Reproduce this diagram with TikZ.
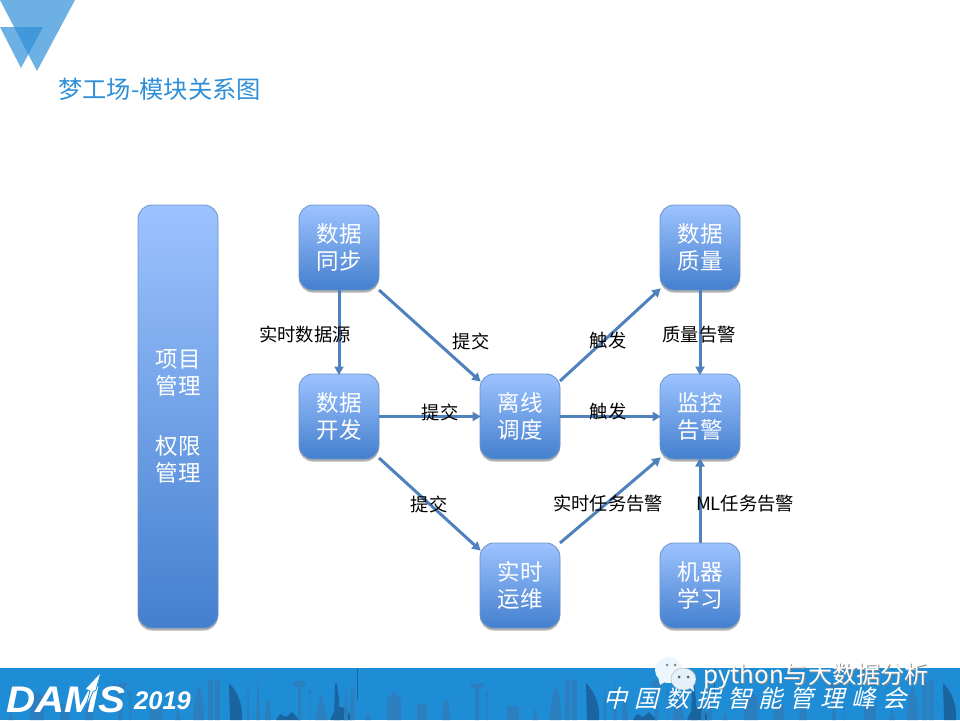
\documentclass[tikz,border=0pt]{standalone}
\usepackage{fontspec}
\setmainfont{Liberation Sans}
\newfontfamily\cjk{Noto Sans CJK SC}
\newfontfamily\damsfont[BoldItalicFont={Liberation Sans Bold Italic},ItalicFont={Liberation Sans Bold Italic},AutoFakeBold=1.2]{Liberation Sans}
\usetikzlibrary{arrows.meta,shadows,calc}
\definecolor{bannerblue}{HTML}{1F8DD6}
\definecolor{skya}{HTML}{2B7FBE}
\definecolor{skyb}{HTML}{1A659F}
\definecolor{titleblue}{HTML}{2E8FD8}
\definecolor{linkblue}{HTML}{4F81BD}
\definecolor{boxtop}{HTML}{9DC3FF}
\definecolor{boxbot}{HTML}{447FCE}
\tikzset{
  x=1pt,y=-1pt,
  module/.style={rounded corners=14pt,draw=linkblue!85,line width=0.8pt,
    top color=boxtop,bottom color=boxbot,text=white,align=center,
    minimum width=80pt,inner sep=0pt,outer sep=0pt,
    font=\cjk\fontsize{22.5pt}{27.2pt}\selectfont,
    drop shadow={shadow xshift=0pt,shadow yshift=-2.5pt,fill=black,opacity=0.3}},
  link/.style={draw=linkblue,line width=3pt,-{Triangle[length=8.5pt,width=9pt]},shorten >=-1pt},
  lbl/.style={text=black,inner sep=0pt,font=\cjk\fontsize{18.3pt}{20pt}\selectfont},
  tri/.style={fill=titleblue,fill opacity=0.7},
  sky/.style={fill=skya,draw=none},
  skyd/.style={fill=skyb,draw=none},
}
\newcommand{\skyline}[1]{%
 \begin{scope}[xshift=#1pt]
  \fill[sky] (8,720) -- (11,712) -- (14,720) -- cycle;
  \fill[sky] (30,720) -- (30,698) -- (37,692) -- (44,698) -- (44,720) -- cycle;
  \fill[sky] (60,720) -- (60,704) -- (70,704) -- (70,720) -- cycle;
  \fill[sky] (85,720) -- (87,700) -- (91,700) -- (93,720) -- cycle;
  \fill[sky] (113,684) -- (127,683) -- (126,687) -- (122,688) -- (122,720) -- (118,720) -- (118,688) -- (114,687) -- cycle;
  \fill[sky] (129.3,720) -- (129.3,696) -- (128,694) -- (129.6,692) -- (130,683) -- (130.4,692) -- (132,694) -- (130.7,696) -- (130.7,720) -- cycle;
  \fill[sky] (150,720) -- (150,706) -- (162,706) -- (162,720) -- cycle;
  \fill[sky] (175,720) -- (178,708) -- (181,720) -- cycle;
  \fill[sky] (193,720) .. controls (193,705) and (196,692) .. (199,685) .. controls (202,692) and (204,705) .. (204,720) -- cycle;
  \fill[sky] (208,720) -- (208,682) -- (211,678) -- (213,682) -- (213,720) -- cycle;
  \fill[sky] (215,720) -- (215,682) -- (217,678) -- (220,682) -- (220,720) -- cycle;
  \fill[skyd] (229,683) .. controls (238,692) and (243,705) .. (242,720) -- (230,720) -- cycle;
  \fill[sky] (246.5,720) -- (247.5,690) -- (248,680) -- (248.5,690) -- (249.5,720) -- cycle;
  \fill[sky] (256,720) -- (257.5,685) -- (258,672) -- (258.5,685) -- (260,720) -- cycle;
  \fill[sky] (265,720) -- (266,702) -- (268,699) -- (270,702) -- (271,720) -- cycle;
  \fill[skyd] (276,720) -- (280,714) -- (286,717) -- (292,712) -- (300,720) -- cycle;
  \fill[sky] (293,683) .. controls (297,680) and (303,680) .. (306,683) -- (304,687) -- (301,687) -- (301,720) -- (298,720) -- (298,687) -- (295,687) -- cycle;
  \fill[sky] (309.5,720) -- (309.5,695) -- (308,692) -- (309.7,690) -- (310,683) -- (310.3,690) -- (312,692) -- (310.5,695) -- (310.5,720) -- cycle;
  \fill[sky] (315,720) -- (321,692) -- (328,720) -- cycle;
  \fill[skyd] (334,720) -- (335,684) -- (337,683) -- (339,700) -- (340,720) -- cycle;
  \fill[skyd] (330,720) .. controls (334,710) and (337,707) .. (341,707) .. controls (345,707) and (348,710) .. (352,720) -- cycle;
  \fill[sky] (344,720) -- (345,690) -- (347,690) -- (348,720) -- cycle;
  \fill[sky] (350,720) -- (351,688) -- (354,686) -- (355,720) -- cycle;
  \fill[skyb] (356.6,668) rectangle (357.1,700);
 \end{scope}}
\begin{document}
\begin{tikzpicture}
\useasboundingbox (0,0) rectangle (960,720);
% corner triangles
\fill[tri] (0,0) -- (75,0) -- (37,71) -- cycle;
\fill[tri] (0,27) -- (43,27) -- (21,68) -- cycle;
% title
\node[anchor=west,inner sep=0pt,text=titleblue,font=\cjk\fontsize{24.3pt}{26pt}\selectfont] (title) at (58,89) {梦工场-模块关系图};
% modules
\node[module,minimum height=423pt] (proj) at (178,416.5) {项目\\管理\\[33pt]权限\\管理};
\node[module,minimum height=85pt] (sync) at (339,247.5) {数据\\同步};
\node[module,minimum height=85pt] (dev) at (339,416.5) {数据\\开发};
\node[module,minimum height=85pt] (off) at (520,416.5) {离线\\调度};
\node[module,minimum height=85pt] (rt) at (520,585.5) {实时\\运维};
\node[module,minimum height=85pt] (qual) at (700,247.5) {数据\\质量};
\node[module,minimum height=85pt] (mon) at (700,416.5) {监控\\告警};
\node[module,minimum height=85pt] (ml) at (700,585.5) {机器\\学习};
% connectors
\draw[link] (sync.south) -- (dev.north);
\draw[link] (sync.south east) -- ([yshift=-7pt]off.north west);
\draw[link] (dev.east) -- (off.west);
\draw[link] ([yshift=1pt]dev.south east) -- ([yshift=-7pt]rt.north west);
\draw[link] ([yshift=-7pt]off.north east) -- ([yshift=1pt]qual.south west);
\draw[link] (off.east) -- (mon.west);
\draw[link] (rt.north east) -- ([yshift=1pt]mon.south west);
\draw[link] (qual.south) -- (mon.north);
\draw[link] (ml.north) -- (mon.south);
% labels
\node[lbl] (l1) at (305,335) {实时数据源};
\node[lbl] (l2) at (471,341) {提交};
\node[lbl] (l3) at (440,412) {提交};
\node[lbl] (l4) at (429,504) {提交};
\node[lbl] (l5) at (608,341) {触发};
\node[lbl] (l6) at (608,412) {触发};
\node[lbl] (l7) at (699,335) {质量告警};
\node[lbl] (l8) at (608,504) {实时任务告警};
\node[lbl] (l9) at (745,504) {ML任务告警};
% banner
\fill[bannerblue] (0,668) rectangle (960,720);
\begin{scope}
\clip (0,668) rectangle (960,720);
\skyline{0}
\skyline{357}
\skyline{714}
\end{scope}
% DAMS logo
\node[anchor=west,inner sep=0pt,text=white,font=\damsfont\bfseries\itshape\fontsize{37pt}{37pt}\selectfont] (dams) at (6,700) {\scalebox{1.09}[1]{DAMS}};
\fill[white,draw=bannerblue,line width=0.8pt] (101,672) -- (85,689) -- (90,691) -- (85,710) -- (93,692) -- (96,690) -- cycle;
\node[anchor=west,inner sep=0pt,text=white,font=\bfseries\itshape\fontsize{25.5pt}{25pt}\selectfont] (year) at (134,701) {2019};
\node[anchor=west,inner sep=0pt,text=white,font=\cjk\fontsize{24pt}{24pt}\selectfont,xslant=0.25] (conf) at (606,698) {中\hspace{7pt}国\hspace{7pt}数\hspace{7pt}据\hspace{7pt}智\hspace{7pt}能\hspace{7pt}管\hspace{7pt}理\hspace{7pt}峰\hspace{7pt}会};
% watermark
\fill[white!92!bannerblue] (669,670) ellipse (14pt and 13pt);
\fill[white!92!bannerblue] (658,676) -- (660,685) -- (668,680) -- cycle;
\fill[black!45] (667,665) circle (1.5pt) (675,665) circle (1.5pt);
\fill[white!88!bannerblue,draw=black!35,line width=0.3pt] (683.5,679) ellipse (12.5pt and 11pt);
\fill[white!88!bannerblue] (688,686) -- (694,692) -- (693,682) -- cycle;
\fill[black!65] (679,677) circle (1.5pt) (688,677) circle (1.5pt);
\node[anchor=west,inner sep=0pt,text=black!45,font=\cjk\fontsize{24.2pt}{25pt}\selectfont] (wms) at (703.7,676.7) {python与大数据分析};
\node[anchor=west,inner sep=0pt,text=white,font=\cjk\fontsize{24.2pt}{25pt}\selectfont] (wm) at (703,676) {python与大数据分析};
\end{tikzpicture}
\end{document}
